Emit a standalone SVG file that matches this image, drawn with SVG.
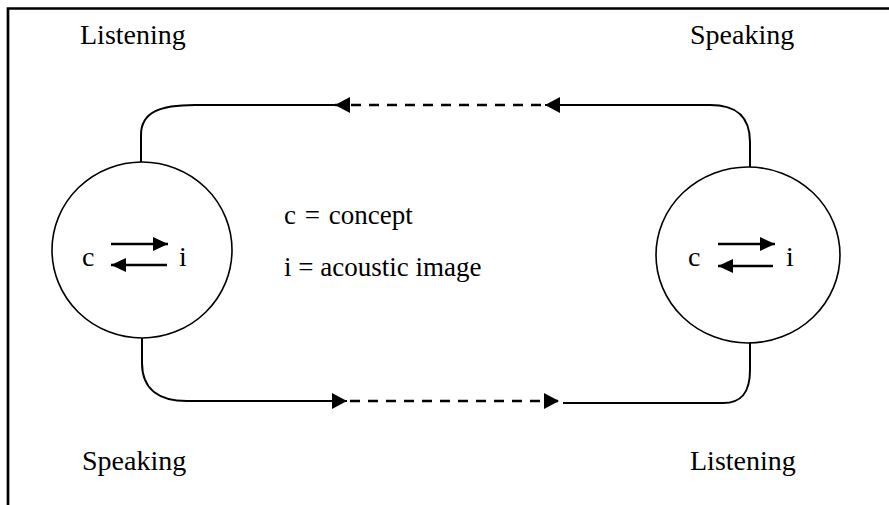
<svg xmlns="http://www.w3.org/2000/svg" width="889" height="505" viewBox="0 0 889 505">
<style>
text{font-family:"Liberation Serif","Times New Roman",serif;font-size:27px;fill:#000}
.big{font-size:28px}
.ln{fill:none;stroke:#000;stroke-width:2}
.dash{fill:none;stroke:#000;stroke-width:2.4;stroke-dasharray:10,8}
.in{fill:none;stroke:#000;stroke-width:2.5}
.circ{fill:#fff;stroke:#000;stroke-width:1.6}
</style>
<defs>
<marker id="ah" markerUnits="userSpaceOnUse" markerWidth="16" markerHeight="16" refX="15" refY="8" orient="auto"><path d="M0,0 L15,8 L0,16 z" fill="#000"/></marker>
<marker id="ahs" markerUnits="userSpaceOnUse" markerWidth="16" markerHeight="14" refX="15" refY="7" orient="auto"><path d="M0,0 L15,7 L0,14 z" fill="#000"/></marker>
</defs>
<rect width="889" height="505" fill="#fff"/>
<g id="frame"><path d="M8,505 V8.5 H889" fill="none" stroke="#000" stroke-width="2.7"/></g>
<g id="labels">
<text class="big" x="80" y="44">Listening</text>
<text class="big" x="690" y="44">Speaking</text>
<text class="big" x="82" y="470">Speaking</text>
<text class="big" x="690" y="470">Listening</text>
<text x="284" y="224" word-spacing="2">c = concept</text>
<text x="284" y="276">i = acoustic image</text>
</g>
<g id="connectors">
<path class="ln" d="M750,168 V142 C750,115 735,105 710,105 H545" marker-end="url(#ah)"/>
<path class="dash" d="M541,105 H335" marker-end="url(#ah)"/>
<path class="ln" d="M335,105 H195 C160,105 141,112 141,135 V162"/>
<path class="ln" d="M142,337 V363 C142,390 160,401 187,401 H347" marker-end="url(#ah)"/>
<path class="dash" d="M350,401 H559" marker-end="url(#ah)"/>
<path class="ln" d="M563,403 H723 C742,403 750,392 750,370 V343"/>
</g>
<g id="speakerA">
<ellipse class="circ" cx="142" cy="250" rx="90" ry="88"/>
<text class="big" x="82" y="266">c</text>
<text class="big" x="179" y="266">i</text>
<path class="in" d="M111,244 H168" marker-end="url(#ahs)"/>
<path class="in" d="M167,265 H111" marker-end="url(#ahs)"/>
</g>
<g id="speakerB">
<ellipse class="circ" cx="748" cy="255" rx="92" ry="88"/>
<text class="big" x="688" y="266">c</text>
<text class="big" x="786" y="266">i</text>
<path class="in" d="M718,244 H775" marker-end="url(#ahs)"/>
<path class="in" d="M773,266 H718" marker-end="url(#ahs)"/>
</g>
</svg>
